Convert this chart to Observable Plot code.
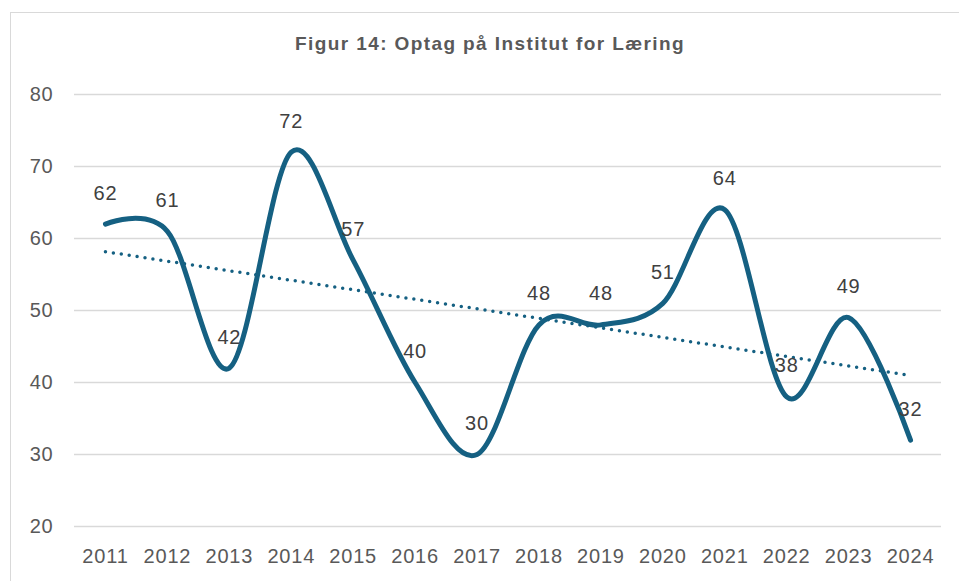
<!DOCTYPE html>
<html>
<head>
<meta charset="utf-8">
<script src="https://cdn.jsdelivr.net/npm/d3@7"></script>
<script src="https://cdn.jsdelivr.net/npm/@observablehq/plot@0.6"></script>
<style>
  html, body { margin: 0; padding: 0; background: #fff; }
  #wrap { position: relative; width: 959px; height: 581px; overflow: hidden; }
  #border { position: absolute; left: 10px; top: 12px; width: 1000px; height: 1000px; border: 1.5px solid #d9d9d9; box-sizing: border-box; }
  #title { position: absolute; left: 0; top: 33px; width: 980px; text-align: center; font-family: "Liberation Sans", Arial, sans-serif; font-weight: bold; font-size: 19px; letter-spacing: 1.4px; color: #595959; }
  #chart { position: absolute; left: 0; top: 0; }
</style>
</head>
<body>
<div id="wrap">
  <div id="border"></div>
  <div id="title">Figur 14: Optag på Institut for Læring</div>
  <div id="chart"></div>
</div>
<script>
const years = [2011, 2012, 2013, 2014, 2015, 2016, 2017, 2018, 2019, 2020, 2021, 2022, 2023, 2024];
const values = [62, 61, 42, 72, 57, 40, 30, 48, 48, 51, 64, 38, 49, 32];
const yTicks = [20, 30, 40, 50, 60, 70, 80];

const data = years.map((year, i) => ({year, value: values[i]}));
const color = "#156082";

const chart = Plot.plot({
  width: 959,
  height: 581,
  marginLeft: 74,
  marginRight: 18,
  marginTop: 94,
  marginBottom: 55,
  style: {fontFamily: "Liberation Sans, Arial, sans-serif", fontSize: "20px", letterSpacing: "0.8px", color: "#595959", background: "transparent", overflow: "visible"},
  x: {type: "linear", domain: [2010.5, 2024.5], ticks: years, tickFormat: d => String(d), tickSize: 0, tickPadding: 22, label: null},
  y: {domain: [20, 80], ticks: yTicks, tickSize: 0, tickPadding: 21, label: null},
  marks: [
    Plot.ruleY(yTicks, {stroke: "#d9d9d9", strokeWidth: 1.5}),
    Plot.linearRegressionY(data, {x: "year", y: "value", ci: 0, stroke: color, strokeWidth: 3.5, strokeDasharray: "0 8", strokeLinecap: "round"}),
    Plot.line(data, {x: "year", y: "value", curve: "cardinal", stroke: color, strokeWidth: 5, strokeLinecap: "round"}),
    Plot.text(data, {x: "year", y: "value", text: d => String(d.value), dy: -31, fill: "#404040", fontSize: 20, lineAnchor: "middle"})
  ]
});
document.getElementById("chart").appendChild(chart);
</script>
</body>
</html>
